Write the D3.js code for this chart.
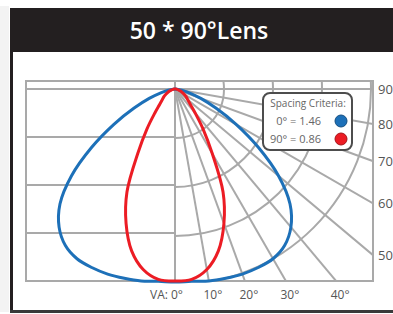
<!DOCTYPE html>
<html>
<head>
<meta charset="utf-8">
<script src="https://cdn.jsdelivr.net/npm/d3@7"></script>
<style>
  html, body { margin: 0; padding: 0; background: #fff; }
  svg { display: block; font-family: "Open Sans", "Noto Sans", sans-serif; }
</style>
</head>
<body>
<svg id="chart" width="393" height="314"></svg>
<script>
// polar angles (deg from nadir) and relative intensity (% of outer ring)
const angles = [0, 5, 10, 15, 20, 25, 30, 35, 40, 45, 50, 55, 60, 65, 70, 75, 80, 85, 90];
const plane0 = [98.5, 98.5, 99.5, 100, 100.5, 100.5, 100, 97.5, 92, 83, 69, 52, 36, 23, 14, 7.5, 3.5, 1, 0];
const plane90 = [98, 97.5, 93.5, 85.5, 73, 58, 38, 25, 16, 11, 8.5, 7, 5.5, 4, 3, 2, 1, 0.5, 0];

const rings = [25, 50, 75, 100];
const spokes = [0, 10, 20, 30, 40, 50, 60, 70, 80, 90];
const bottomTicks = ["VA: 0°", "10°", "20°", "30°", "40°"];
const sideTicks = ["50", "60", "70", "80", "90"];
const legendItems = [
    { label: "0° = 1.46", color: "#1d70b8" },
    { label: "90° = 0.86", color: "#ec1c24" }
];

const svg = d3.select("#chart");
const W = 393, H = 314;
const ox = 175, oy = 89;
const box = { left: 26, right: 373, top: 81, bottom: 281 };
const grey = "#a9a9a9";
const rad = d => d * Math.PI / 180;

// frame
svg.append("rect").attr("width", W).attr("height", H).attr("fill", "#fff");
svg.append("rect").attr("x", 0).attr("y", 6).attr("width", 9).attr("height", 306).attr("fill", "#f3f3f3");
svg.append("rect").attr("x", 10).attr("y", 8).attr("width", W - 10).attr("height", 44).attr("fill", "#231f20");
svg.append("rect").attr("x", 10).attr("y", 8).attr("width", 3).attr("height", 305).attr("fill", "#231f20");
svg.append("rect").attr("x", 10).attr("y", 310).attr("width", W - 10).attr("height", 3).attr("fill", "#3a3a3a");
svg.append("text")
    .attr("x", 199).attr("y", 39)
    .attr("text-anchor", "middle")
    .attr("fill", "#fff")
    .style("font-size", "23px")
    .style("font-weight", 600)
    .text("50 * 90°Lens");

const r = d3.scaleLinear().domain([0, 100]).range([0, 196]);
const yGrid = d3.scaleLinear().domain([0, 4]).range([oy, box.bottom]);

const g = svg.append("g")
    .attr("fill", "none")
    .attr("stroke", grey)
    .attr("stroke-width", 2);

// left half: plain rectangular grid
d3.range(1, 4).forEach(k => {
    g.append("line")
        .attr("x1", box.left).attr("x2", ox)
        .attr("y1", yGrid(k)).attr("y2", yGrid(k));
});
g.append("line").attr("x1", box.left).attr("x2", box.right).attr("y1", oy).attr("y2", oy);
g.append("line").attr("x1", ox).attr("x2", ox).attr("y1", box.top).attr("y2", box.bottom);

// right half: polar grid
svg.append("clipPath").attr("id", "rightClip")
    .append("rect")
    .attr("x", ox).attr("y", box.top)
    .attr("width", box.right - ox).attr("height", box.bottom - box.top);

const polar = g.append("g").attr("clip-path", "url(#rightClip)");
polar.selectAll("circle")
    .data(rings)
    .enter()
    .append("circle")
    .attr("cx", ox).attr("cy", oy)
    .attr("r", d => r(d));
polar.selectAll(".spoke")
    .data(spokes)
    .enter()
    .append("line")
    .attr("class", "spoke")
    .attr("x1", ox).attr("y1", oy)
    .attr("x2", d => ox + 500 * Math.sin(rad(d)))
    .attr("y2", d => oy + 500 * Math.cos(rad(d)));

g.append("rect")
    .attr("x", box.left).attr("y", box.top)
    .attr("width", box.right - box.left).attr("height", box.bottom - box.top);

// intensity curves (mirrored about nadir)
const curve = vals => {
    const pts = [];
    for (let i = angles.length - 1; i >= 0; i--) pts.push([Math.PI + rad(angles[i]), r(vals[i])]);
    for (let i = 1; i < angles.length; i++) pts.push([Math.PI - rad(angles[i]), r(vals[i])]);
    return pts;
};
const line = d3.lineRadial()
    .angle(d => d[0])
    .radius(d => d[1])
    .curve(d3.curveCatmullRom);

const plot = svg.append("g").attr("transform", `translate(${ox},${oy})`);
[[plane0, legendItems[0].color], [plane90, legendItems[1].color]].forEach(([vals, c]) => {
    plot.append("path")
        .attr("d", line(curve(vals)))
        .attr("fill", "none")
        .attr("stroke", c)
        .attr("stroke-width", 3)
        .attr("stroke-linejoin", "round");
});

// tick labels
const labels = svg.append("g").attr("fill", "#555").style("font-size", "12px");
bottomTicks.forEach((t, i) => {
    const a = spokes[i];
    const x = ox + (box.bottom - oy) * Math.tan(rad(a));
    labels.append("text")
        .attr("x", i === 0 ? x + 8 : x + 4)
        .attr("y", box.bottom + 18)
        .attr("text-anchor", i === 0 ? "end" : "middle")
        .text(t);
});
sideTicks.forEach((t, i) => {
    const a = spokes[5 + i];
    const y = a === 90 ? oy : oy + (box.right - ox) / Math.tan(rad(a));
    labels.append("text")
        .attr("x", box.right + 5)
        .attr("y", y + 5)
        .style("font-size", "13px")
        .text(t);
});

// legend
const lg = svg.append("g").attr("transform", "translate(263,93)");
lg.append("rect")
    .attr("width", 89).attr("height", 57).attr("rx", 7)
    .attr("fill", "#fff").attr("stroke", "#4d4d4d").attr("stroke-width", 2);
lg.append("text")
    .attr("x", 45).attr("y", 14)
    .attr("text-anchor", "middle")
    .attr("fill", "#666")
    .style("font-size", "10px")
    .text("Spacing Criteria:");
legendItems.forEach((d, i) => {
    lg.append("text")
        .attr("x", 58).attr("y", 32 + i * 18)
        .attr("text-anchor", "end")
        .attr("fill", "#666")
        .style("font-size", "11px")
        .text(d.label);
    lg.append("circle")
        .attr("cx", 78).attr("cy", 28 + i * 18).attr("r", 6)
        .attr("fill", d.color)
        .attr("stroke", d3.color(d.color).darker(1))
        .attr("stroke-width", 1);
});
</script>
</body>
</html>
